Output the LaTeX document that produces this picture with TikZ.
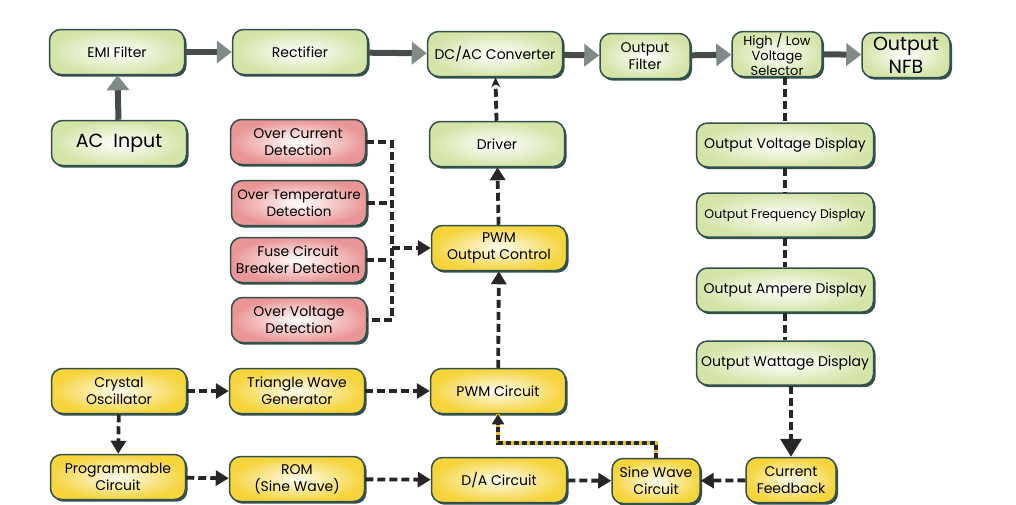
\documentclass[tikz,border=0pt]{standalone}
\usepackage{fontspec}
\setmainfont{Poppins}
\usepackage{tikz}
\usetikzlibrary{positioning}
\usetikzlibrary{arrows}
\usetikzlibrary{arrows.meta}
\usetikzlibrary{shadows}
\definecolor{boxline}{RGB}{50,80,76}
\definecolor{boxgreen}{RGB}{212,228,168}
\definecolor{boxyellow}{RGB}{245,212,60}
\definecolor{boxpink}{RGB}{234,150,150}
\definecolor{headgray}{RGB}{128,138,134}
\definecolor{shaftgray}{RGB}{70,76,76}
\definecolor{fbyellow}{RGB}{236,190,30}

\begin{document}
\begin{tikzpicture}[x=1pt, y=-1pt,
	blk/.style={rounded corners=11pt, draw=boxline, line width=1.5pt, align=center,
		minimum width=135pt, minimum height=45pt, inner sep=1pt,
		font=\fontsize{14}{17}\selectfont, shading=radial,
		drop shadow={shadow xshift=2pt, shadow yshift=-2.2pt, fill=boxline, opacity=1}}]
	\useasboundingbox (0,0) rectangle (1016,504);

	% power path
	\begin{scope}[every node/.style={blk, inner color=white, outer color=boxgreen}]
	    \node (EMI) at (117,52) {EMI Filter};
	    \node (Rect) at (300,52) {Rectifier};
	    \node (DCAC) at (495,54) {DC/AC Converter};
	    \node[minimum width=90pt] (OF) at (645,56) {Output\\Filter};
	    \node[minimum width=90pt, font=\fontsize{13}{15}\selectfont] (HL) at (777,54) {High / Low\\Voltage\\Selector};
	    \node[minimum width=88pt, font=\fontsize{19}{23}\selectfont] (NFB) at (906,55) {Output\\NFB};
	    \node[font=\fontsize{19}{21}\selectfont] (AC) at (119,143) {AC\ \ Input};
	    \node (Drv) at (497,144) {Driver};
	\end{scope}

	% displays
	\begin{scope}[every node/.style={blk, minimum width=177pt, minimum height=44pt,
	              inner color=white, outer color=boxgreen}]
	    \node (VD) at (785,145) {Output Voltage Display};
	    \node[font=\fontsize{12.5}{15}\selectfont] (FD) at (785,215) {Output Frequency Display};
	    \node (AD) at (785,290) {Output Ampere Display};
	    \node (WD) at (785,363) {Output Wattage Display};
	\end{scope}

	% protection
	\begin{scope}[every node/.style={blk, inner color=white, outer color=boxpink}]
	    \node (OC) at (298,142) {Over Current\\Detection};
	    \node[font=\fontsize{13.5}{17}\selectfont] (OT) at (299,203) {Over Temperature\\Detection};
	    \node (FC) at (298,260) {Fuse Circuit\\Breaker Detection};
	    \node (OV) at (299,320) {Over Voltage\\Detection};
	\end{scope}

	% control path
	\begin{scope}[every node/.style={blk, inner color=boxyellow!8, outer color=boxyellow}]
	    \node (PWMo) at (499,248) {PWM\\Output Control};
	    \node (XO) at (119,391) {Crystal\\Oscillator};
	    \node (TW) at (297,391) {Triangle Wave\\Generator};
	    \node (PWMc) at (498,391) {PWM Circuit};
	    \node (PC) at (118,477) {Programmable\\Circuit};
	    \node (ROM) at (297,479) {ROM\\(Sine Wave)};
	    \node (DA) at (499,480) {D/A Circuit};
	    \node[minimum width=88pt] (SW) at (656,481) {Sine Wave\\Circuit};
	    \node[minimum width=90pt] (CF) at (791,480) {Current\\Feedback};
	\end{scope}

	% heavy arrows
	\begin{scope}[every edge/.style={draw=shaftgray, line width=6pt,
	              -{Triangle[color=headgray, length=15pt, width=22pt]}}]
    	\path (EMI) edge (Rect);
    	\path (Rect) edge (DCAC);
    	\path (DCAC) edge (OF);
    	\path (OF) edge (HL);
    	\path (HL) edge (NFB);
    	\path (AC) edge (EMI);
	\end{scope}

	% dashed signals
	\begin{scope}[every edge/.style={draw=black!85, line width=3.8pt, dash pattern=on 8pt off 4pt},
	              >={Triangle[length=13pt, width=15pt]}]
    	\path [->] (PWMo) edge (Drv);
    	\path [->] (PWMc) edge (PWMo);
    	\path [->] (TW) edge (PWMc);
    	\path [->] (ROM) edge (DA);
    	\path [->] (DA) edge (SW);
    	\path [->] (CF) edge (SW);
    	\path [->, >={Triangle[length=18pt, width=21pt]}] (CF.north |- WD.south) edge (CF.north);
    	\path (VD.north |- HL.south) edge (VD.north);
    	\path [dash pattern=on 4pt off 2.5pt] (VD) edge (FD);
    	\path [dash pattern=on 4pt off 2.5pt] (FD) edge (AD);
    	\path [dash pattern=on 4pt off 2.5pt] (AD) edge (WD);
    	\path [->, dash pattern=on 4pt off 2.5pt] (XO) edge (TW);
    	\path [->, dash pattern=on 4pt off 2.5pt] (PC) edge (ROM);
    	\path [->, dash pattern=on 4pt off 2.5pt] (XO) edge (PC);
    	\path [->, line width=1.6pt, dash pattern=on 6pt off 3pt,
    	       >={Stealth[length=10pt, width=9pt]}] (Drv) edge (DCAC);
	\end{scope}

	% protection bus
	\coordinate (BusT) at (392,142);
	\coordinate (BusB) at (392,320);
	\begin{scope}[black!85, line width=3.5pt, dash pattern=on 8pt off 4pt]
    	\draw (OC.east) -| (BusB) -- (OV.east);
    	\draw (OT.east) -- (OT.east -| BusT);
    	\draw (FC.east) -- (FC.east -| BusT);
    	\draw [-{Triangle[length=13pt, width=15pt]}] (PWMo.west -| BusT) -- (PWMo.west);
	\end{scope}

	% sine wave feedback
	\coordinate (FB) at (575,443);
	\draw [black!85, line width=3.5pt, dash pattern=on 5pt off 3pt,
	       preaction={draw=fbyellow, line width=4pt, solid, -},
	       -{Triangle[length=10pt, width=12pt]}]
	    (SW.north) |- (FB) -| (PWMc.south);
\end{tikzpicture}
\end{document}
